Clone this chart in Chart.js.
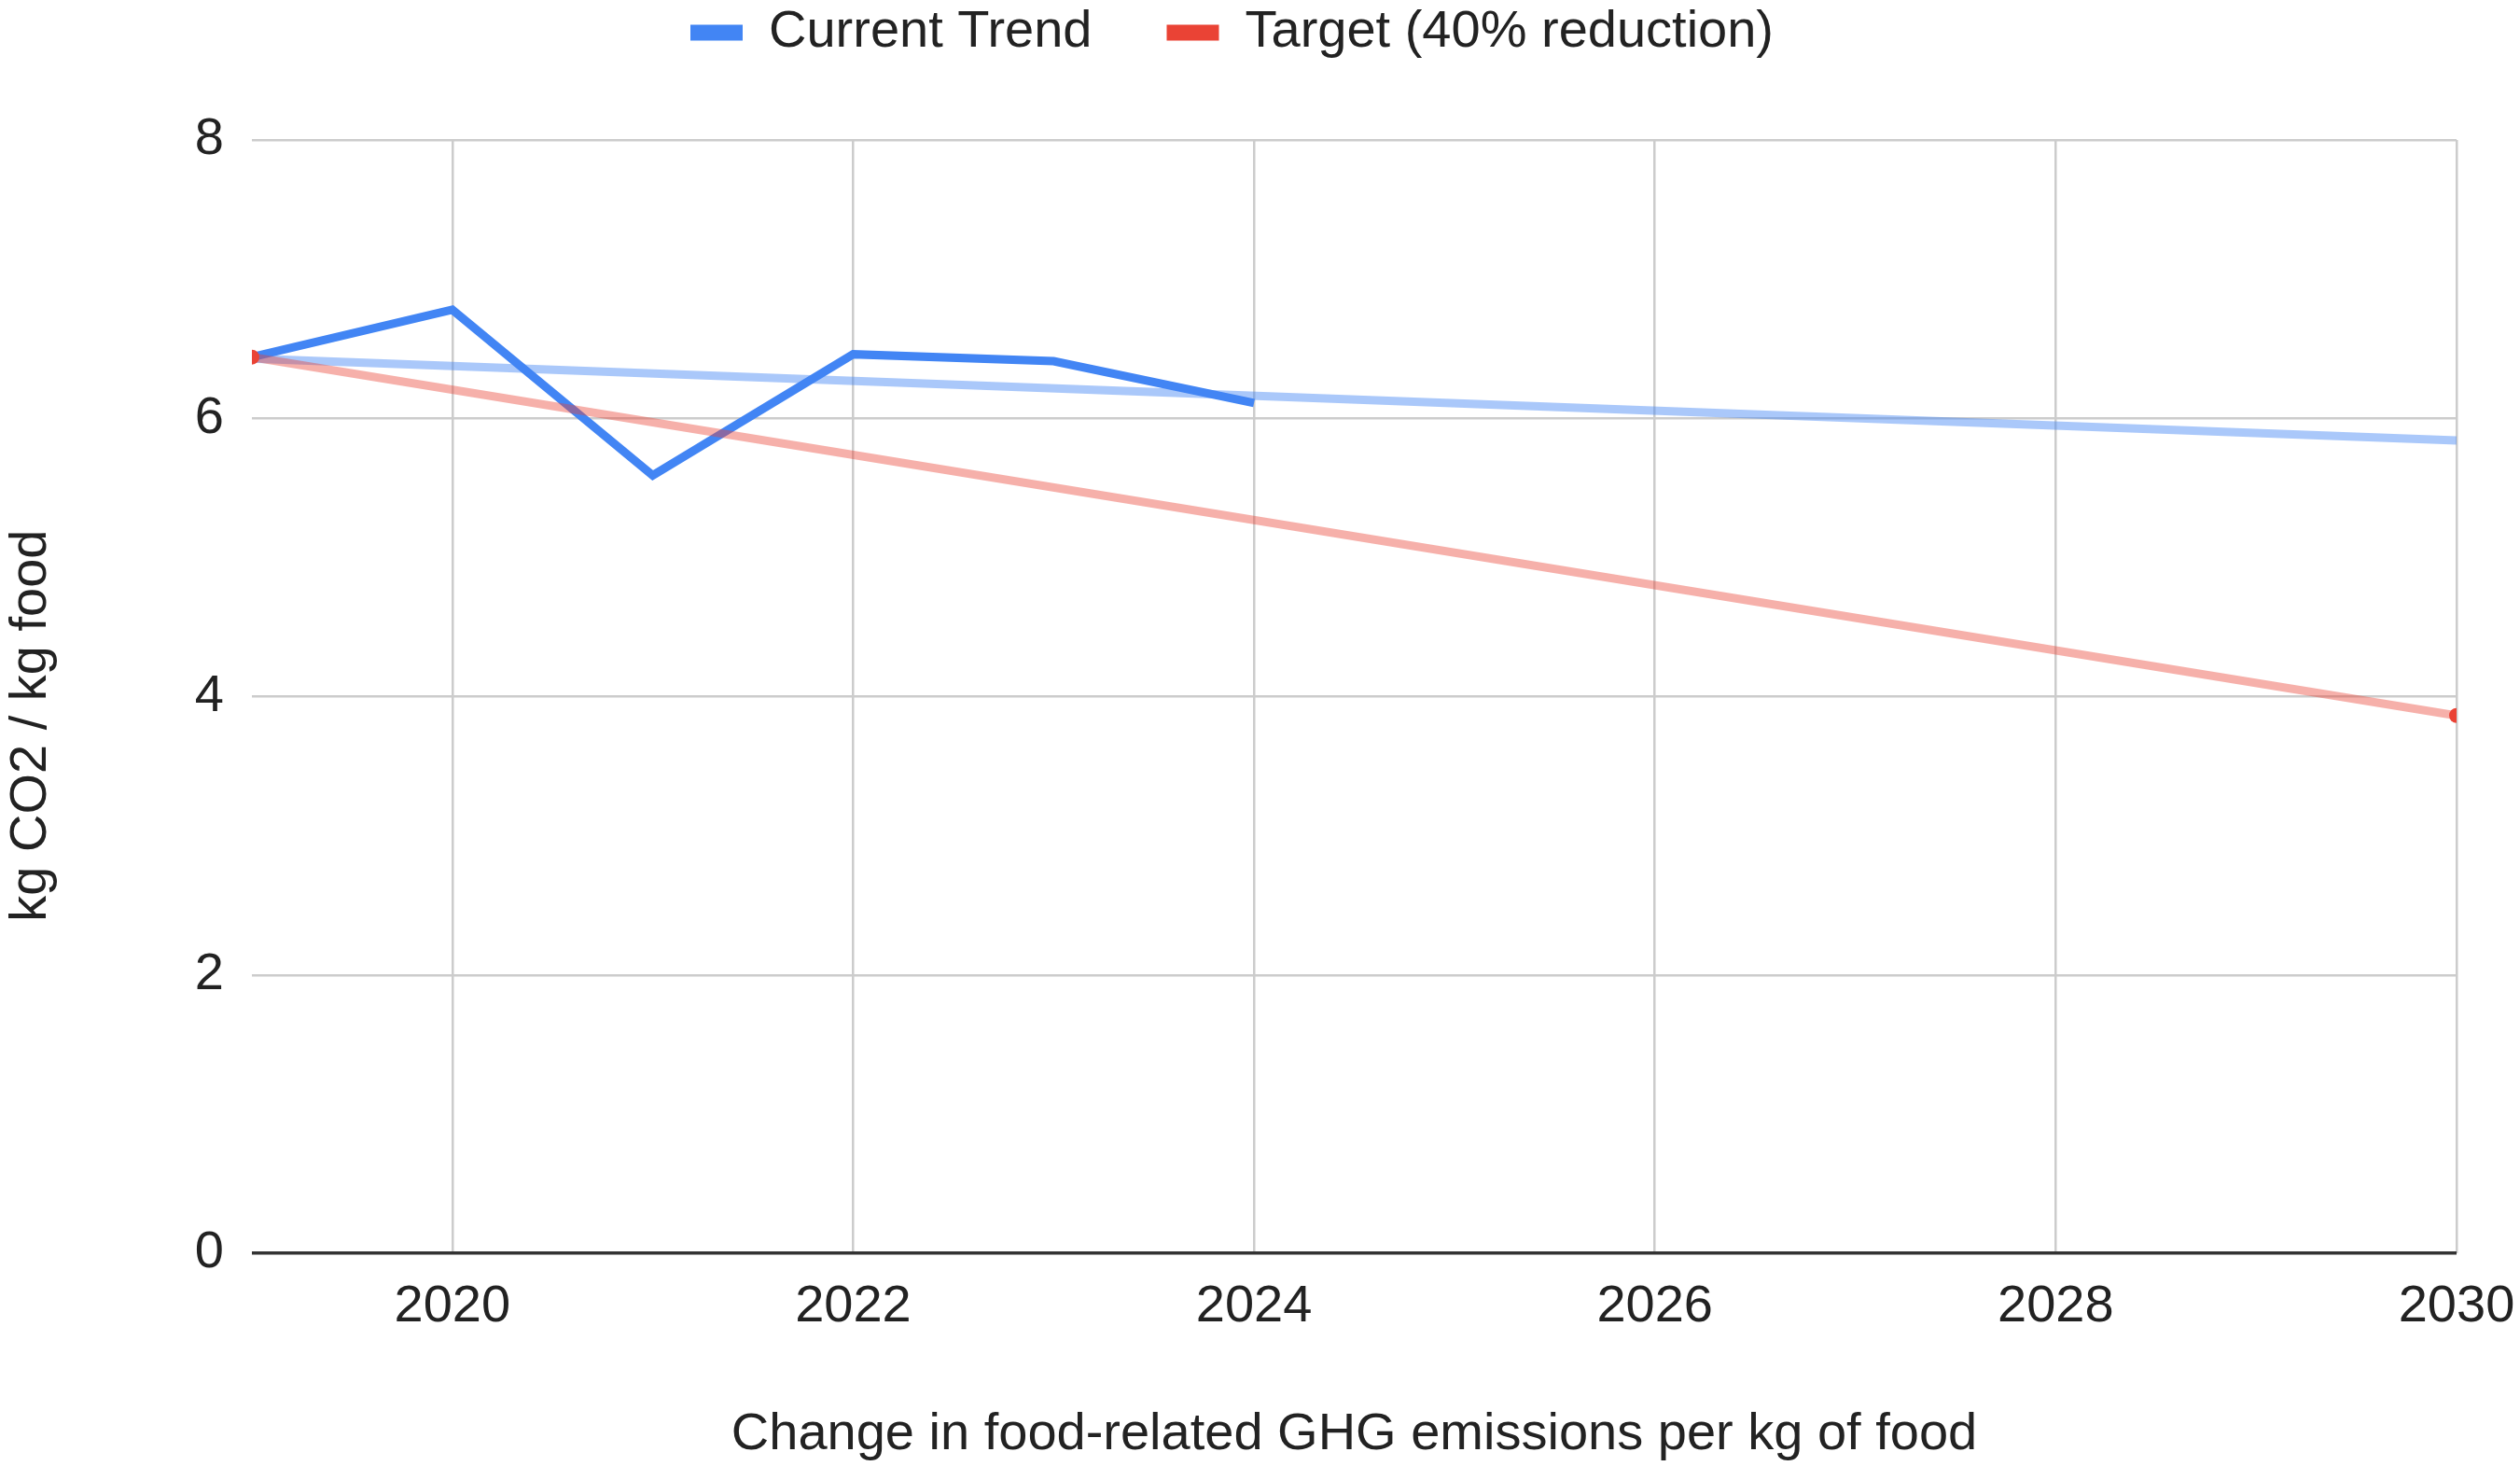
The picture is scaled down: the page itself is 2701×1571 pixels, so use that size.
<!DOCTYPE html>
<html>
<head>
<meta charset="utf-8">
<title>Food-related GHG emissions per kg of food</title>
<script src="https://cdn.jsdelivr.net/npm/chart.js@4.4.1/dist/chart.umd.min.js"></script>
<style>
  html, body { margin: 0; padding: 0; background: #ffffff; }
  #wrap { width: 2701px; height: 1571px; }
  canvas { display: block; }
</style>
</head>
<body>
<div id="wrap"><canvas id="chart" width="2701" height="1571"></canvas></div>
<script>
// Observed emissions intensity (kg CO2 per kg of food)
const years = [2019, 2020, 2021, 2022, 2023, 2024];
const currentTrend = [6.44, 6.78, 5.59, 6.46, 6.41, 6.11];

// Linear trendline through the observed series, drawn across the full horizon
const trendYears = [2019, 2030];
const trendValues = [6.43, 5.84];

// Target path: 40% below the 2019 level by 2030
const targetYears = [2019, 2030];
const targetValues = [6.44, 3.864];

// Axis ticks
const xTickValues = [2020, 2022, 2024, 2026, 2028, 2030];
const yTickValues = [0, 2, 4, 6, 8];

// Labels
const seriesNames = ['Current Trend', 'Target (40% reduction)'];
const xAxisTitle = 'Change in food-related GHG emissions per kg of food';
// trailing spaces nudge the rotated title slightly below the axis midpoint
const yAxisTitle = 'kg CO2 / kg food    ';

const BLUE = '#4285F4';
const RED = '#EA4335';
const TEXT = '#222222';
const FONT_SIZE = 56;

Chart.defaults.font.family = '"Liberation Sans", Arial, Helvetica, sans-serif';
Chart.defaults.color = TEXT;

const toPoints = (xs, ys) => xs.map((x, i) => ({ x: x, y: ys[i] }));

// Keeps the legend at the very top of the canvas, above the plot area
const legendPlacer = {
  id: 'legendPlacer',
  afterLayout(chart) {
    const legend = chart.legend;
    if (!legend) return;
    const pad = legend.options.labels.padding;
    const dy = 35 - (legend.top + pad + FONT_SIZE / 2);
    legend.top += dy;
    legend.bottom += dy;
    legend.left += 4;
    legend.right += 4;
  }
};

const legendColors = [BLUE, RED];

new Chart(document.getElementById('chart'), {
  type: 'line',
  data: {
    datasets: [
      {
        label: seriesNames[0],
        data: toPoints(years, currentTrend),
        borderColor: BLUE,
        backgroundColor: BLUE,
        borderWidth: 9,
        borderJoinStyle: 'miter',
        pointRadius: 0,
        tension: 0,
        order: 1
      },
      {
        label: seriesNames[1],
        data: toPoints(targetYears, targetValues),
        borderColor: 'rgba(234, 67, 53, 0.42)',
        backgroundColor: RED,
        borderWidth: 9,
        pointRadius: 8,
        pointBackgroundColor: RED,
        pointBorderWidth: 0,
        tension: 0,
        clip: 0,
        order: 0
      },
      {
        label: 'trend',
        data: toPoints(trendYears, trendValues),
        borderColor: 'rgba(66, 133, 244, 0.45)',
        backgroundColor: 'rgba(66, 133, 244, 0.45)',
        borderWidth: 9,
        pointRadius: 0,
        tension: 0,
        order: 2
      }
    ]
  },
  options: {
    responsive: false,
    animation: false,
    devicePixelRatio: 1,
    layout: { padding: { top: 4, right: 68, bottom: 0, left: 0 } },
    plugins: {
      tooltip: { enabled: false },
      legend: {
        display: true,
        position: 'top',
        labels: {
          boxWidth: 56,
          boxHeight: 17,
          padding: 80,
          color: TEXT,
          font: { size: FONT_SIZE },
          generateLabels: (chart) => {
            const items = Chart.defaults.plugins.legend.labels.generateLabels(chart);
            return items
              .filter(it => it.datasetIndex < 2)
              .sort((a, b) => a.datasetIndex - b.datasetIndex)
              .map(it => Object.assign({}, it, {
                fillStyle: legendColors[it.datasetIndex],
                strokeStyle: 'rgba(0,0,0,0)',
                lineWidth: 0
              }));
          }
        }
      }
    },
    scales: {
      x: {
        type: 'linear',
        min: 2019,
        max: 2030,
        afterBuildTicks: (scale) => { scale.ticks = xTickValues.map(v => ({ value: v })); },
        afterFit: (scale) => {
          scale.height = 228;
          scale.paddingLeft = 0;
          scale.paddingRight = 0;
        },
        grid: { color: '#cccccc', lineWidth: 2.5, drawTicks: false },
        border: { display: false },
        ticks: {
          padding: 24,
          color: TEXT,
          font: { size: FONT_SIZE },
          maxRotation: 0,
          autoSkip: false,
          callback: (v) => String(v)
        },
        title: {
          display: true,
          text: xAxisTitle,
          color: TEXT,
          font: { size: FONT_SIZE },
          padding: { top: 0, bottom: 0 }
        }
      },
      y: {
        type: 'linear',
        min: 0,
        max: 8,
        afterBuildTicks: (scale) => { scale.ticks = yTickValues.map(v => ({ value: v })); },
        afterFit: (scale) => { scale.width = 270; },
        grid: {
          color: (c) => (c.tick && c.tick.value === 0 ? '#333333' : '#cccccc'),
          lineWidth: (c) => (c.tick && c.tick.value === 0 ? 3.5 : 2.5),
          drawTicks: false
        },
        border: { display: false },
        ticks: {
          padding: 30,
          color: TEXT,
          font: { size: FONT_SIZE },
          callback: (v) => String(v)
        },
        title: {
          display: true,
          text: yAxisTitle,
          color: TEXT,
          font: { size: FONT_SIZE },
          padding: { top: 0, bottom: 0 }
        }
      }
    }
  },
  plugins: [legendPlacer]
});
</script>
</body>
</html>
